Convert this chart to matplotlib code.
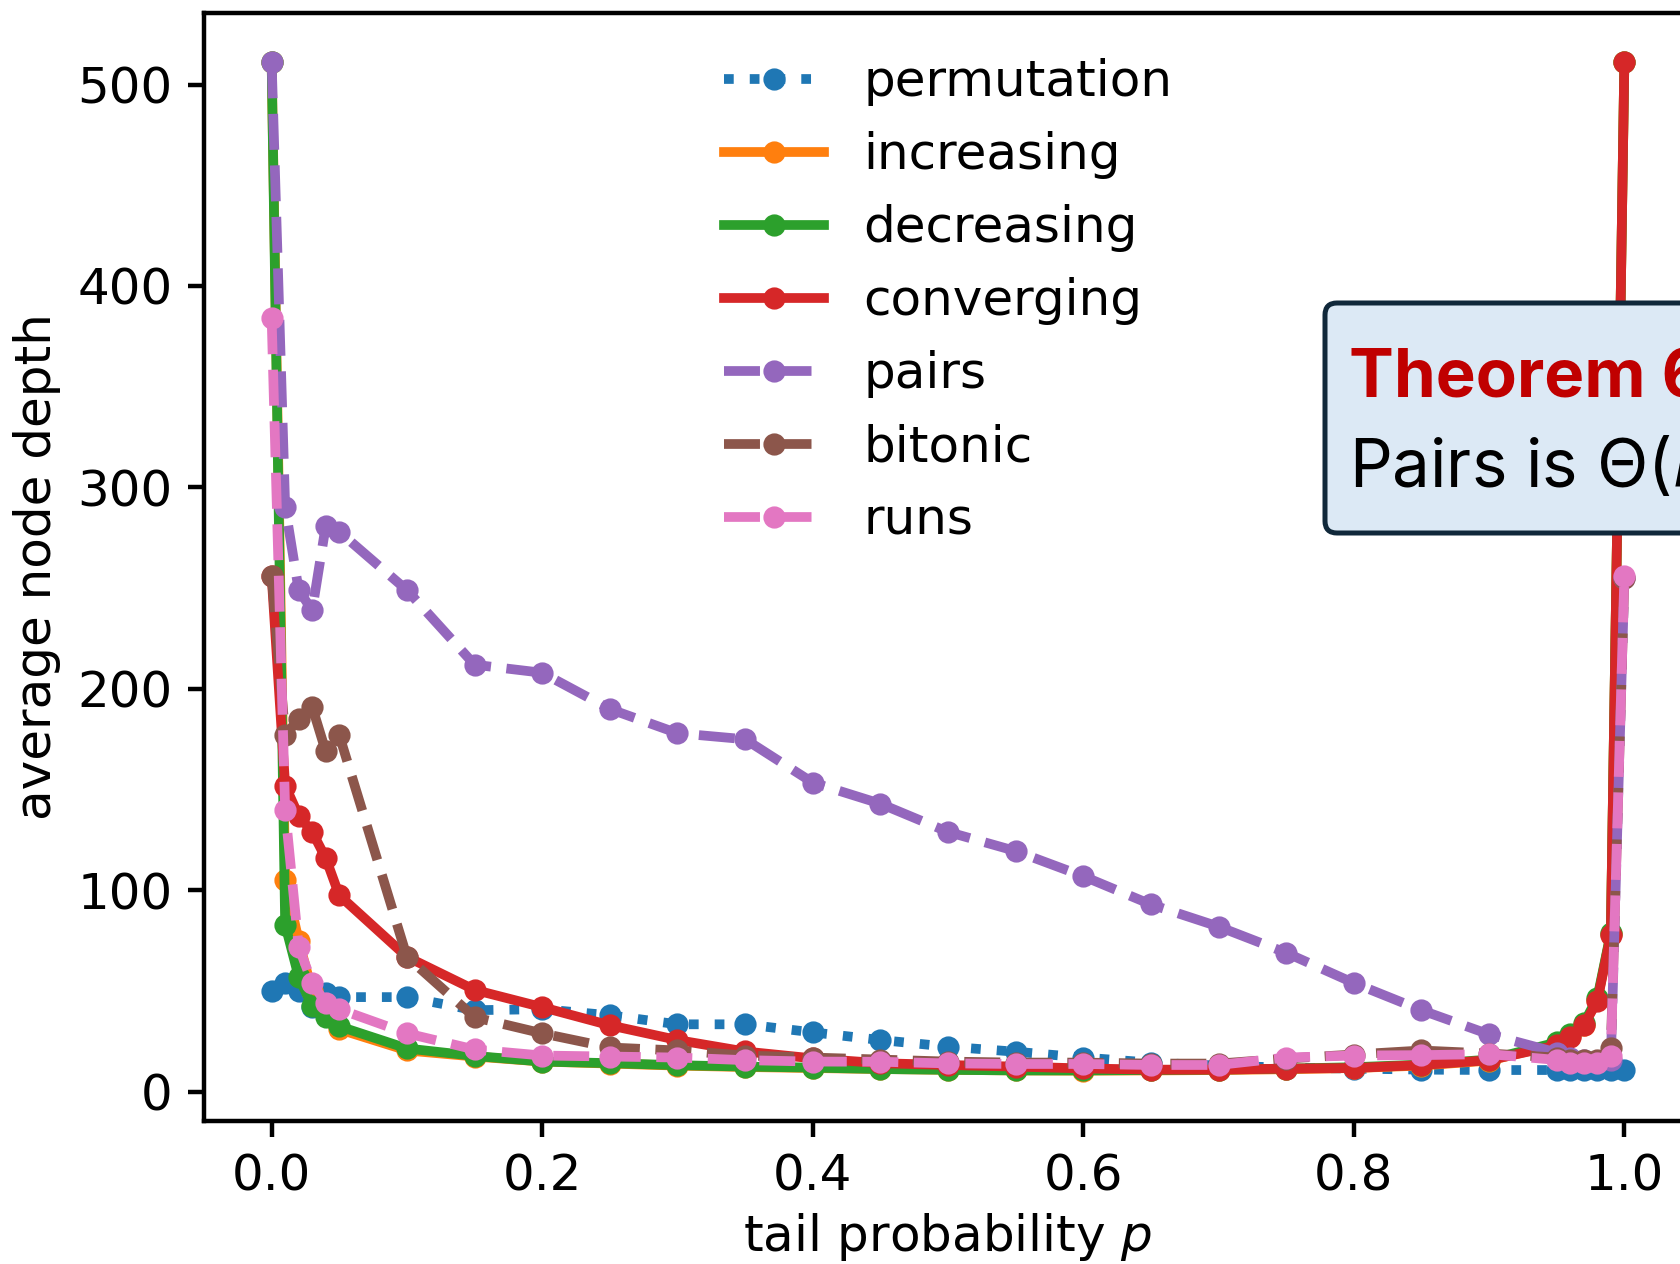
import matplotlib
matplotlib.use("Agg")
import matplotlib.pyplot as plt
from matplotlib.patches import FancyBboxPatch
from matplotlib.transforms import IdentityTransform

# tail probability values
p = [0.0, 0.01, 0.02, 0.03, 0.04, 0.05,
     0.1, 0.15, 0.2, 0.25, 0.3, 0.35, 0.4, 0.45, 0.5, 0.55, 0.6,
     0.65, 0.7, 0.75, 0.8, 0.85, 0.9,
     0.95, 0.96, 0.97, 0.98, 0.99, 1.0]

permutation = [50, 54, 50, 42, 49, 47,
               47, 40.5, 41, 38, 33.5, 33.5, 29.5, 25.7, 22.4, 19.9, 17,
               14.5, 13, 12, 11.5, 11, 10.8,
               10.8, 10.8, 10.8, 10.8, 10.8, 11]
increasing = [511, 105, 75, 50, 39, 31,
              20.5, 17.5, 15, 14, 13, 12.3, 11.8, 11.3, 10.9, 10.6, 10.5,
              10.6, 10.8, 11.2, 11.8, 13, 15.5,
              23.5, 27.5, 33, 45.5, 78.5, 511]
decreasing = [511, 83, 57, 42.5, 37, 32.5,
              21.5, 17.8, 15, 14.2, 13.2, 12.5, 12, 11.3, 10.9, 10.6, 10.6,
              10.8, 11, 11.5, 12.2, 13.5, 16,
              24.5, 28.5, 34, 46.5, 79, 511]
converging = [256, 152, 137, 129, 116, 97.5,
              67, 50.6, 42, 33, 25.7, 20, 16.6, 14.2, 13.3, 12.5, 11.6,
              11, 11, 11.5, 11.8, 13.3, 15.7,
              23, 27, 33, 45, 78, 511]
pairs = [511, 290.5, 249, 239, 281, 278,
         249, 212, 208, 190, 178, 175, 153.5, 143, 129, 119.5, 107,
         93, 82, 69, 54, 40.5, 28.5,
         19.5, 17, 16, 15.5, 16, 255]
bitonic = [256, 177, 185, 191, 169, 177,
           67, 37, 29, 22, 20.5, 18, 17, 16, 15, 14.5, 14.5,
           14, 14, 16.5, 18.5, 20.5, 19,
           17, 16, 16, 16, 21.5, 255]
runs = [384, 140, 72, 54, 44, 41,
        29, 21, 18, 17.5, 17, 15.7, 15, 14.9, 14.1, 13.8, 13.8,
        13.3, 13.3, 17, 18, 18.2, 18.7,
        15.8, 14.1, 14.1, 14.1, 18, 256]

series = [
    ("permutation", permutation, ":"),
    ("increasing", increasing, "-"),
    ("decreasing", decreasing, "-"),
    ("converging", converging, "-"),
    ("pairs", pairs, "--"),
    ("bitonic", bitonic, "--"),
    ("runs", runs, "--"),
]

plt.rcParams["font.size"] = 9
plt.rcParams["xtick.major.size"] = 2.8
plt.rcParams["ytick.major.size"] = 2.8
plt.rcParams["xtick.major.pad"] = 2.8
plt.rcParams["ytick.major.pad"] = 2.8

fig = plt.figure(figsize=(4.2, 3.16), dpi=400)
ax = fig.add_axes([204 / 1680, (1264 - 1121) / 1264,
                   (1692 - 204) / 1680, (1121 - 13) / 1264])

for label, vals, ls in series:
    ax.plot(p, vals, marker=".", linestyle=ls, linewidth=1.75, label=label)

ax.set_xlim(-0.05, 1.05)
ax.set_ylim(-14.5, 535.5)
ax.set_xticks([0.0, 0.2, 0.4, 0.6, 0.8, 1.0])
ax.set_yticks([0, 100, 200, 300, 400, 500])
ax.set_xlabel("tail probability $p$", labelpad=2)
ax.set_ylabel("average node depth", labelpad=3)
ax.legend(loc="upper center", frameon=False)

# annotation box (extends past the right edge of the image, as in the source)
box = FancyBboxPatch((1325, 1264 - 533), 500, 230,
                     boxstyle="round,pad=0,rounding_size=12",
                     transform=IdentityTransform(),
                     facecolor="#dce9f5", edgecolor="#10283a", linewidth=0.9)
fig.add_artist(box)
fig.text(1349 / 1680, 1 - 397 / 1264, "Theorem 6", family=["Inter", "DejaVu Sans"],
         fontweight="bold", color="#c00000", fontsize=12.1, va="baseline")
fig.text(1349 / 1680, 1 - 487 / 1264, "Pairs is \u0398($n$)",
         family=["Inter", "DejaVu Sans"], color="black", fontsize=12.1, va="baseline")

fig.savefig("out.png", dpi=400)
